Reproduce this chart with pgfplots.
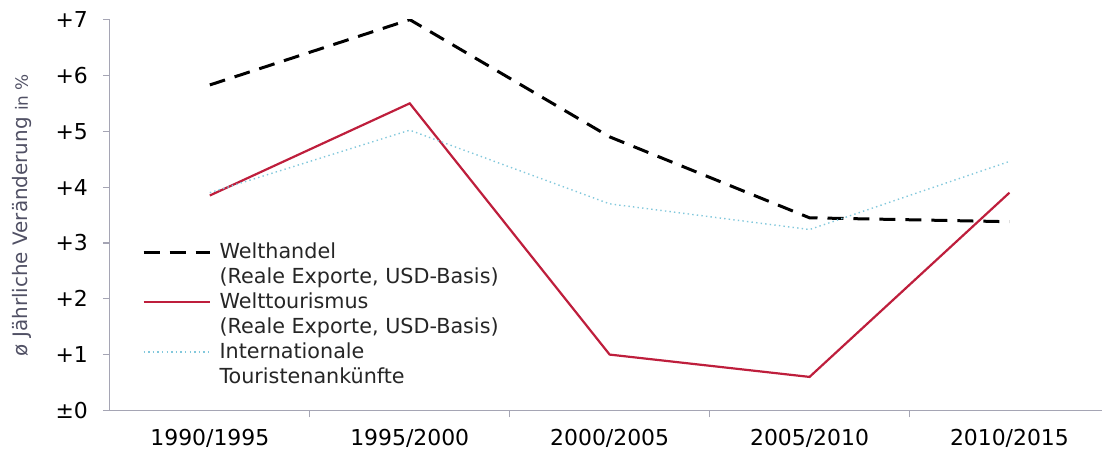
\documentclass[border=0pt]{standalone}
\usepackage{fontspec}
\setmainfont{DejaVu Sans}
\usepackage{pgfplots}
\pgfplotsset{compat=1.18}

\definecolor{welttour}{RGB}{190,30,60}
\definecolor{ankunft}{RGB}{130,200,220}
\definecolor{axgray}{RGB}{165,165,180}
\definecolor{labgray}{RGB}{80,80,100}

\begin{document}
\begin{tikzpicture}
\begin{axis}[
  scale only axis,
  width=496.5bp, height=195.5bp,
  xmin=-0.5, xmax=4.465,
  ymin=0, ymax=7,
  axis lines*=left,
  axis line style={draw=axgray, line width=0.6pt},
  xtick={0.5,1.5,2.5,3.5},
  xticklabels={},
  x tick style={draw=axgray, line width=0.6pt},
  extra x ticks={0,1,2,3,4},
  extra x tick labels={1990/1995,1995/2000,2000/2005,2005/2010,2010/2015},
  ytick={0,1,...,7},
  yticklabels={±0,+1,+2,+3,+4,+5,+6,+7},
  y tick style={draw=axgray, line width=0.6pt},
  tick align=outside,
  major tick length=3.5bp,
  xticklabel style={font=\fontsize{11}{13}\selectfont, yshift=-3bp},
  extra x tick style={major tick length=0pt, xticklabel style={font=\fontsize{11}{13}\selectfont, yshift=-3bp}},
  yticklabel style={font=\fontsize{11}{13}\selectfont, xshift=-4bp},
  ylabel={\textcolor{labgray}{ø Jährliche Veränderung {\fontsize{8.5}{10}\selectfont in \%}}},
  ylabel style={font=\fontsize{10}{12}\selectfont, yshift=5bp},
  legend style={draw=none, fill=none, at={(rel axis cs:0.032,0.438)}, anchor=north west,
    font=\fontsize{10.4}{12}\selectfont, text=black!85, inner sep=0pt, row sep=0pt,
    nodes={inner sep=0.25bp, text height=9bp, text depth=3bp},
    /tikz/every odd column/.append style={column sep=4bp}},
  legend cell align=left,
  legend image code/.code={\draw[#1] (0bp,0bp) -- (33bp,0bp);},
]
\addplot[black, line width=1.5bp, dash pattern=on 8bp off 5bp]
  coordinates {(0,5.83) (1,7.0) (2,4.9) (3,3.45) (4,3.38)};
\addlegendentry{Welthandel}
\addlegendimage{empty legend}
\addlegendentry{(Reale Exporte, USD-Basis)}
\addplot[welttour, line width=1.1bp]
  coordinates {(0,3.85) (1,5.5) (2,1.0) (3,0.6) (4,3.9)};
\addlegendentry{Welttourismus}
\addlegendimage{empty legend}
\addlegendentry{(Reale Exporte, USD-Basis)}
\addplot[ankunft, line width=0.7bp, dash pattern=on 0.7bp off 1.6bp]
  coordinates {(0,3.9) (1,5.02) (2,3.7) (3,3.24) (4,4.46)};
\addlegendentry{Internationale}
\addlegendimage{empty legend}
\addlegendentry{Touristenankünfte}
\end{axis}
\path (current bounding box.north) ++(0,2.5bp);
\path (current bounding box.west) ++(-3bp,0);
\end{tikzpicture}
\end{document}
